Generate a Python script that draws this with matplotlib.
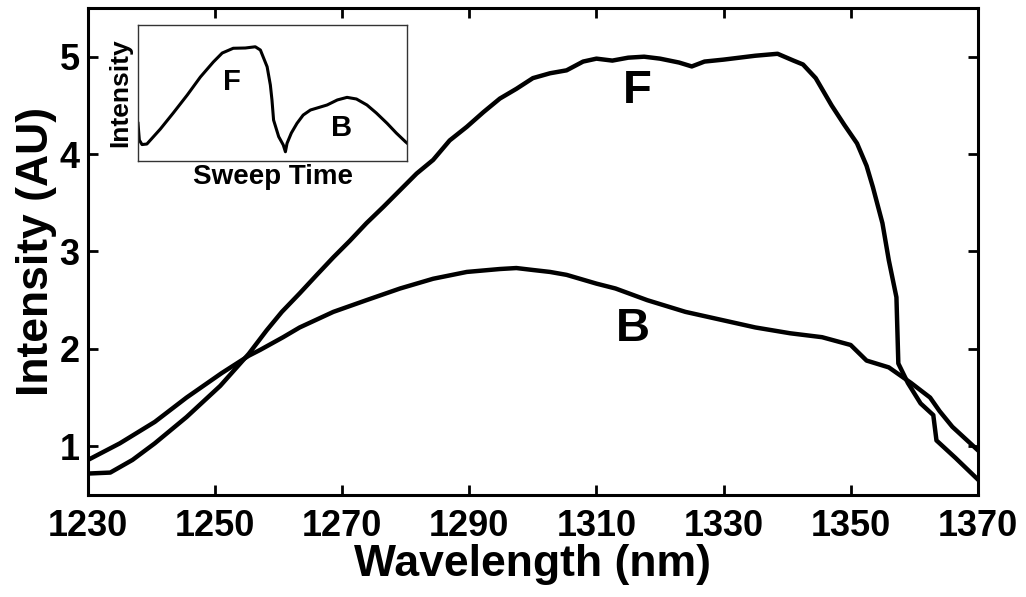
import matplotlib
matplotlib.use("Agg")
import matplotlib.pyplot as plt

# forward sweep (F)
f_wl = [1230, 1233.5, 1237, 1240.5, 1245.5, 1250.8, 1255.3, 1258.1, 1260.5, 1263.3,
        1266, 1268.6, 1271.2, 1273.8, 1276.5, 1279.1, 1281.7, 1284.3, 1286.9, 1289.6,
        1292.2, 1294.8, 1297.4, 1300, 1302.7, 1305.3, 1307.9, 1310, 1312.5, 1315,
        1317.5, 1320, 1323, 1325, 1327, 1330, 1332.5, 1335, 1338.5, 1341,
        1342.5, 1344.5, 1347, 1349, 1351, 1352.5, 1353.5, 1355, 1356, 1357.2,
        1357.5, 1359, 1361, 1363, 1363.5, 1366.5, 1370]
f_int = [0.72, 0.73, 0.86, 1.03, 1.30, 1.62, 1.95, 2.19, 2.38, 2.57,
         2.76, 2.94, 3.11, 3.29, 3.46, 3.63, 3.80, 3.94, 4.14, 4.28,
         4.43, 4.57, 4.67, 4.78, 4.83, 4.86, 4.95, 4.98, 4.96, 4.99,
         5.00, 4.98, 4.94, 4.90, 4.95, 4.97, 4.99, 5.01, 5.03, 4.96,
         4.92, 4.78, 4.50, 4.30, 4.11, 3.88, 3.66, 3.29, 2.91, 2.53,
         1.85, 1.65, 1.44, 1.32, 1.06, 0.88, 0.66]

# backward sweep (B)
b_wl = [1230, 1235, 1240.5, 1245.5, 1251, 1255.3, 1257.1, 1260.7, 1263.3, 1268.6,
        1273.8, 1279.1, 1284.3, 1289.6, 1294.8, 1297.4, 1300, 1302.7, 1305.3, 1310,
        1313, 1318, 1321, 1324, 1329.5, 1335, 1340.5, 1345.5, 1350, 1352.5,
        1356, 1359.5, 1362.5, 1364, 1366, 1370]
b_int = [0.86, 1.03, 1.25, 1.50, 1.75, 1.93, 1.99, 2.12, 2.22, 2.38,
         2.50, 2.62, 2.72, 2.79, 2.82, 2.83, 2.81, 2.79, 2.76, 2.67,
         2.62, 2.50, 2.44, 2.38, 2.30, 2.22, 2.16, 2.12, 2.04, 1.88,
         1.81, 1.65, 1.50, 1.36, 1.20, 0.96]

# inset: raw detector trace vs sweep time (arbitrary units)
ins_t = [0, 0.5, 1.5, 3.3, 8.3, 13.1, 18.3, 23.2, 28.0, 31.3,
         35.4, 39.9, 43.6, 45.5, 48.0, 49.2, 49.8, 50.4, 52.3, 54.0,
         54.8, 55.4, 57.0, 59.1, 61.4, 64.1, 70.3, 74.1, 77.7, 81.2,
         85.1, 88.6, 92.6, 96.0, 99.4, 100]
ins_i = [2.77, 1.54, 1.21, 1.25, 2.35, 3.53, 4.85, 6.18, 7.28, 7.94,
         8.29, 8.31, 8.40, 8.16, 6.93, 5.59, 4.49, 3.01, 1.79, 1.18,
         0.68, 1.30, 2.06, 2.77, 3.38, 3.75, 4.12, 4.49, 4.68, 4.56,
         4.12, 3.53, 2.77, 2.06, 1.42, 1.32]

x_ticks = [1230, 1250, 1270, 1290, 1310, 1330, 1350, 1370]
y_ticks = [1, 2, 3, 4, 5]

plt.rcParams["font.family"] = ["Liberation Sans", "DejaVu Sans"]
plt.rcParams["font.weight"] = "bold"

fig = plt.figure(figsize=(10.26, 5.97), dpi=100)
ax = fig.add_axes([0.0858, 0.1709, 0.8672, 0.8157])

ax.plot(f_wl, f_int, color="black", lw=3.2, solid_joinstyle="round")
ax.plot(b_wl, b_int, color="black", lw=3.2, solid_joinstyle="round")
ax.text(1316.4, 4.65, "F", fontsize=34, fontweight="bold", ha="center", va="center")
ax.text(1315.7, 2.20, "B", fontsize=34, fontweight="bold", ha="center", va="center")

ax.set_xlim(1230, 1370)
ax.set_ylim(0.5, 5.5)
ax.set_xticks(x_ticks)
ax.set_yticks(y_ticks)
ax.tick_params(direction="in", length=7, width=2, top=True, right=True,
               labelsize=26, pad=10)
ax.tick_params(axis="y", pad=6)
for lab in ax.get_xticklabels() + ax.get_yticklabels():
    lab.set_fontweight("bold")
for s in ax.spines.values():
    s.set_linewidth(2.2)
ax.set_xlabel("Wavelength (nm)", fontsize=32, fontweight="bold", labelpad=0)
ax.set_ylabel("Intensity (AU)", fontsize=32, fontweight="bold", labelpad=2)

# inset
ins = fig.add_axes([0.1345, 0.7303, 0.2622, 0.2278])
ins.plot(ins_t, ins_i, color="black", lw=2.2, solid_joinstyle="round")
ins.set_xlim(0, 100)
ins.set_ylim(0, 10)
ins.set_xticks([])
ins.set_yticks([])
for s in ins.spines.values():
    s.set_linewidth(1.0)
    s.set_color("#333333")
ins.set_xlabel("Sweep Time", fontsize=20, fontweight="bold", labelpad=2)
ins.set_ylabel("Intensity", fontsize=19, fontweight="bold", labelpad=4)
ins.text(34.9, 5.83, "F", fontsize=21, fontweight="bold", ha="center", va="center")
ins.text(75.8, 2.40, "B", fontsize=21, fontweight="bold", ha="center", va="center")

fig.savefig("out.png", dpi=100)
